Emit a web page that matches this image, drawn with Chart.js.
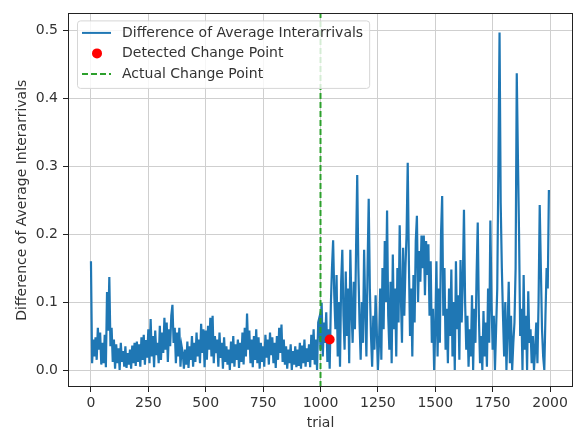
<!DOCTYPE html>
<html>
<head>
<meta charset="utf-8">
<script src="https://cdn.jsdelivr.net/npm/chart.js@4/dist/chart.umd.min.js"></script>
<style>
  html, body { margin: 0; padding: 0; background: #fff; }
  #wrap { width: 580px; height: 430px; }
</style>
</head>
<body>
<div id="wrap"><canvas id="chart"></canvas></div>
<script>
// one value every 5 trials
const TRIAL_STEP = 5;
const diffValues = [
  // 0 - 495
  0.160, 0.010, 0.045, 0.020, 0.048, 0.015, 0.062, 0.030, 0.055, 0.008,
  0.040, 0.010, 0.052, 0.004, 0.115, 0.058, 0.137, 0.035, 0.062, 0.012,
  0.045, 0.002, 0.038, 0.010, 0.032, 0.000, 0.040, 0.012, 0.028, 0.005,
  0.035, 0.003, 0.025, 0.008, 0.030, 0.002, 0.036, 0.010, 0.040, 0.006,
  0.042, 0.012, 0.038, 0.005, 0.048, 0.015, 0.052, 0.008, 0.044, 0.018,
  0.060, 0.010, 0.075, 0.020, 0.050, 0.004, 0.058, 0.022, 0.040, 0.010,
  0.065, 0.015, 0.055, 0.025, 0.077, 0.030, 0.070, 0.012, 0.060, 0.035,
  0.080, 0.096, 0.040, 0.062, 0.010, 0.055, 0.020, 0.062, 0.005, 0.035,
  0.025, 0.002, 0.030, 0.008, 0.042, 0.003, 0.035, 0.015, 0.050, 0.005,
  0.040, 0.012, 0.055, 0.020, 0.045, 0.010, 0.068, 0.025, 0.060, 0.004,
  // 500 - 995
  0.058, 0.015, 0.065, 0.030, 0.077, 0.020, 0.080, 0.010, 0.050, 0.025,
  0.045, 0.005, 0.055, 0.018, 0.040, 0.002, 0.048, 0.012, 0.035, 0.008,
  0.030, 0.000, 0.042, 0.010, 0.050, 0.005, 0.038, 0.015, 0.045, 0.003,
  0.040, 0.012, 0.055, 0.008, 0.062, 0.020, 0.083, 0.030, 0.058, 0.010,
  0.045, 0.004, 0.050, 0.015, 0.060, 0.010, 0.048, 0.002, 0.040, 0.012,
  0.035, 0.005, 0.052, 0.018, 0.045, 0.008, 0.055, 0.022, 0.048, 0.010,
  0.040, 0.003, 0.050, 0.015, 0.062, 0.025, 0.067, 0.012, 0.045, 0.008,
  0.035, 0.002, 0.030, 0.010, 0.038, 0.000, 0.028, 0.008, 0.035, 0.004,
  0.030, 0.006, 0.040, 0.002, 0.036, 0.010, 0.045, 0.005, 0.032, 0.012,
  0.038, 0.004, 0.052, 0.015, 0.060, 0.008, 0.045, 0.000, 0.070, 0.077,
  // 1000 - 1495
  0.030, 0.099, 0.020, 0.070, 0.040, 0.085, 0.012, 0.060, 0.002, 0.095,
  0.150, 0.191, 0.110, 0.060, 0.140, 0.020, 0.100, 0.005, 0.130, 0.177,
  0.080, 0.030, 0.145, 0.050, 0.120, 0.010, 0.177, 0.090, 0.040, 0.130,
  0.060, 0.180, 0.287, 0.150, 0.070, 0.015, 0.100, 0.040, 0.177, 0.090,
  0.020, 0.150, 0.252, 0.120, 0.050, 0.005, 0.080, 0.030, 0.110, 0.060,
  0.000, 0.040, 0.120, 0.015, 0.150, 0.060, 0.190, 0.100, 0.235, 0.080,
  0.030, 0.130, 0.010, 0.170, 0.060, 0.120, 0.020, 0.150, 0.070, 0.213,
  0.110, 0.040, 0.180, 0.080, 0.150, 0.200, 0.305, 0.160, 0.050, 0.120,
  0.020, 0.140, 0.070, 0.190, 0.227, 0.100, 0.175, 0.130, 0.198, 0.150,
  0.198, 0.110, 0.190, 0.140, 0.185, 0.080, 0.160, 0.040, 0.090, 0.000,
  // 1500 - 1995
  0.060, 0.160, 0.020, 0.120, 0.040, 0.200, 0.256, 0.080, 0.150, 0.030,
  0.090, 0.010, 0.120, 0.050, 0.148, 0.020, 0.100, 0.000, 0.160, 0.060,
  0.110, 0.015, 0.162, 0.070, 0.130, 0.236, 0.100, 0.030, 0.080, 0.005,
  0.060, 0.020, 0.110, 0.000, 0.090, 0.040, 0.140, 0.217, 0.080, 0.010,
  0.050, 0.000, 0.087, 0.020, 0.070, 0.005, 0.120, 0.040, 0.220, 0.100,
  0.030, 0.080, 0.000, 0.060, 0.120, 0.300, 0.497, 0.246, 0.150, 0.080,
  0.020, 0.100, 0.000, 0.060, 0.130, 0.010, 0.080, 0.000, 0.040, 0.070,
  0.150, 0.437, 0.314, 0.200, 0.050, 0.090, 0.000, 0.140, 0.030, 0.080,
  0.000, 0.116, 0.040, 0.060, 0.010, 0.050, 0.000, 0.030, 0.070, 0.010,
  0.100, 0.243, 0.150, 0.060, 0.020, 0.000, 0.080, 0.150, 0.120, 0.265
];

const detectedPoint = { trial: 1040, value: 0.045 };
const actualChange = 1000;

const X_MIN = -100, X_MAX = 2100;
const Y_MIN = -0.025, Y_MAX = 0.525;
const xTicks = [0, 250, 500, 750, 1000, 1250, 1500, 1750, 2000];
const yTicks = [0.0, 0.1, 0.2, 0.3, 0.4, 0.5];

const LEGEND_LABELS = ["Difference of Average Interarrivals", "Detected Change Point", "Actual Change Point"];

const BLUE = "#1f77b4", RED = "#ff0000", GREEN = "#2ca02c";
const FONT = '"DejaVu Sans", sans-serif';
const FS = 14;

const lineData = diffValues.map((v, i) => ({ x: i * TRIAL_STEP, y: v }));

// frame around the plot area (matplotlib spines)
const frame = {
  id: "frame",
  afterDatasetsDraw(chart) {
    const { ctx, chartArea: a } = chart;
    ctx.save();
    ctx.strokeStyle = "#222";
    ctx.lineWidth = 1;
    ctx.strokeRect(Math.round(a.left) + 0.5, Math.round(a.top) + 0.5,
      Math.round(a.right - a.left) - 1, Math.round(a.bottom - a.top) - 1);
    ctx.restore();
  }
};

// legend drawn inside the axes, upper-left
const innerLegend = {
  id: "innerLegend",
  afterDraw(chart) {
    const { ctx, chartArea: a } = chart;
    ctx.save();
    ctx.font = FS + "px " + FONT;
    const x0 = a.left + 9, y0 = a.top + 7;
    const rowH = 20.5;
    const textW = Math.max(...LEGEND_LABELS.map(t => ctx.measureText(t).width));
    const w = 45 + textW + 6, h = rowH * 3 + 6;

    ctx.beginPath();
    ctx.roundRect(x0 + 0.5, y0 + 0.5, w, h, 3);
    ctx.fillStyle = "rgba(255,255,255,0.8)";
    ctx.fill();
    ctx.strokeStyle = "#d6d6d6";
    ctx.lineWidth = 1;
    ctx.stroke();

    LEGEND_LABELS.forEach((label, i) => {
      const y = y0 + 12.5 + i * rowH;
      if (i === 0) {
        ctx.strokeStyle = BLUE; ctx.lineWidth = 2; ctx.setLineDash([]);
        ctx.beginPath(); ctx.moveTo(x0 + 5, y); ctx.lineTo(x0 + 34, y); ctx.stroke();
      } else if (i === 1) {
        ctx.fillStyle = RED;
        ctx.beginPath(); ctx.arc(x0 + 20, y, 5, 0, Math.PI * 2); ctx.fill();
      } else {
        ctx.strokeStyle = GREEN; ctx.lineWidth = 2; ctx.setLineDash([6, 3]);
        ctx.beginPath(); ctx.moveTo(x0 + 5, y); ctx.lineTo(x0 + 34, y); ctx.stroke();
        ctx.setLineDash([]);
      }
      ctx.fillStyle = "#333";
      ctx.textBaseline = "middle";
      ctx.fillText(label, x0 + 45, y);
    });
    ctx.restore();
  }
};

new Chart(document.getElementById("chart"), {
  type: "line",
  data: {
    datasets: [
      {
        label: LEGEND_LABELS[0],
        data: lineData,
        borderColor: BLUE,
        borderWidth: 2.2,
        pointRadius: 0,
        tension: 0,
        order: 3
      },
      {
        label: LEGEND_LABELS[2],
        data: [{ x: actualChange, y: Y_MIN }, { x: actualChange, y: Y_MAX }],
        borderColor: GREEN,
        borderWidth: 2,
        borderDash: [6, 3],
        pointRadius: 0,
        order: 2
      },
      {
        label: LEGEND_LABELS[1],
        data: [{ x: detectedPoint.trial, y: detectedPoint.value }],
        showLine: false,
        pointRadius: 5,
        pointBackgroundColor: RED,
        pointBorderWidth: 0,
        order: 1
      }
    ]
  },
  options: {
    responsive: true,
    maintainAspectRatio: false,
    animation: false,
    layout: { padding: { left: 0, right: 7, top: 10, bottom: 0 } },
    plugins: { legend: { display: false }, tooltip: { enabled: false } },
    scales: {
      x: {
        type: "linear",
        min: X_MIN, max: X_MAX,
        afterBuildTicks: s => { s.ticks = xTicks.map(v => ({ value: v })); },
        afterFit: s => { s.height = 43; },
        ticks: { color: "#333", font: { family: FONT, size: FS }, padding: 3, maxRotation: 0,
          callback: v => String(v) },
        grid: { color: "#cfcfcf", lineWidth: 1, tickLength: 5, tickColor: "#222" },
        border: { display: false },
        title: { display: true, text: "trial", color: "#333",
          font: { family: FONT, size: FS, lineHeight: 1.0 }, padding: { top: 0, bottom: 0 } }
      },
      y: {
        type: "linear",
        min: Y_MIN, max: Y_MAX,
        afterBuildTicks: s => { s.ticks = yTicks.map(v => ({ value: v })); },
        afterFit: s => { s.width = 68; },
        ticks: { color: "#333", font: { family: FONT, size: FS }, padding: 5,
          callback: v => v.toFixed(1) },
        grid: { color: "#cfcfcf", lineWidth: 1, tickLength: 5, tickColor: "#222" },
        border: { display: false },
        title: { display: true, text: "Difference of Average Interarrivals", color: "#333",
          font: { family: FONT, size: FS, lineHeight: 1.0 }, padding: { top: 15, bottom: 0 } }
      }
    }
  },
  plugins: [frame, innerLegend]
});
</script>
</body>
</html>
